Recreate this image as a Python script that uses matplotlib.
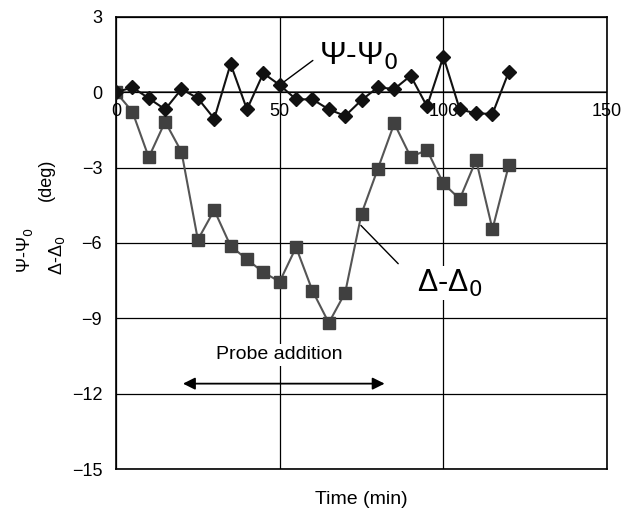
import matplotlib
matplotlib.use("Agg")
import matplotlib.pyplot as plt

plt.rcParams["font.family"] = ["Liberation Sans", "DejaVu Sans"]

# time (min) and angle changes (deg)
time_min = [0, 5, 10, 15, 20, 25, 30, 35, 40, 45, 50, 55, 60,
            65, 70, 75, 80, 85, 90, 95, 100, 105, 110, 115, 120]
psi = [0, 0.2, -0.24, -0.68, 0.13, -0.24, -1.05, 1.13, -0.68, 0.76, 0.29, -0.28, -0.28,
       -0.68, -0.94, -0.31, 0.2, 0.13, 0.66, -0.56, 1.42, -0.68, -0.84, -0.86, 0.82]
delta = [0, -0.77, -2.59, -1.17, -2.37, -5.87, -4.69, -6.12, -6.65, -7.17, -7.54, -6.17, -7.9,
         -9.18, -7.98, -4.83, -3.04, -1.24, -2.57, -2.3, -3.63, -4.25, -2.7, -5.45, -2.9]

x_ticks = [0, 50, 100, 150]
y_ticks = [3, 0, -3, -6, -9, -12, -15]
probe_start, probe_end = 19.6, 82.9

fig = plt.figure(figsize=(6.33, 5.14), dpi=100)
ax = fig.add_axes([0.1833, 0.0875, 0.7757, 0.8795])

ax.set_xlim(0, 150)
ax.set_ylim(-15, 3)
ax.set_yticks(y_ticks)
ax.set_yticklabels([f"{v}".replace("-", "\u2212") for v in y_ticks], fontsize=13)
ax.set_xticks(x_ticks)
ax.set_xticklabels([])
ax.tick_params(length=0, pad=10)
ax.grid(True, color="black", linewidth=0.9)
ax.axhline(0, color="#555555", linewidth=1.2, zorder=1)
for s in ax.spines.values():
    s.set_linewidth(1.2)

for x in x_ticks:
    ax.annotate(str(x), (x, 0), xytext=(0, -8), textcoords="offset points",
                ha="center", va="top", fontsize=13)

ax.plot(time_min, delta, "s-", color="#555555", markerfacecolor="#404040",
        markeredgecolor="#404040", markersize=8, linewidth=1.5, zorder=3)
ax.plot(time_min, psi, "D-", color="#111111", markersize=7, linewidth=1.5, zorder=4)

# labels with leader lines
ax.annotate("\u03a8-\u03a8$_0$", xy=(50, 0.29), xytext=(62, 1.45),
            fontsize=23, ha="left", va="center",
            arrowprops=dict(arrowstyle="-", color="black", linewidth=1,
                            relpos=(0, 0.5), shrinkA=3, shrinkB=0))
ax.annotate("\u0394-\u0394$_0$", xy=(74.8, -5.3), xytext=(92, -7.6),
            fontsize=22, ha="left", va="center",
            bbox=dict(facecolor="white", edgecolor="none", pad=1),
            arrowprops=dict(arrowstyle="-", color="black", linewidth=1,
                            relpos=(0, 0.5), shrinkA=18, shrinkB=0))

# probe addition
ax.text(50, -10.45, "Probe addition", ha="center", va="center", fontsize=14,
        bbox=dict(facecolor="white", edgecolor="none", pad=2))
ax.annotate("", xy=(probe_start, -11.6), xytext=(probe_end, -11.6),
            arrowprops=dict(arrowstyle="<|-|>", color="black", linewidth=1.3,
                            mutation_scale=18))

ax.set_xlabel("Time (min)", fontsize=14, labelpad=6)

fig.text(0.04, 0.514, "\u03a8-\u03a8$_0$", rotation=90, ha="center", va="center", fontsize=13)
fig.text(0.09, 0.504, "\u0394-\u0394$_0$", rotation=90, ha="center", va="center", fontsize=13)
fig.text(0.074, 0.65, "(deg)", rotation=90, ha="center", va="center", fontsize=13)

fig.savefig("out.png", dpi=100)
